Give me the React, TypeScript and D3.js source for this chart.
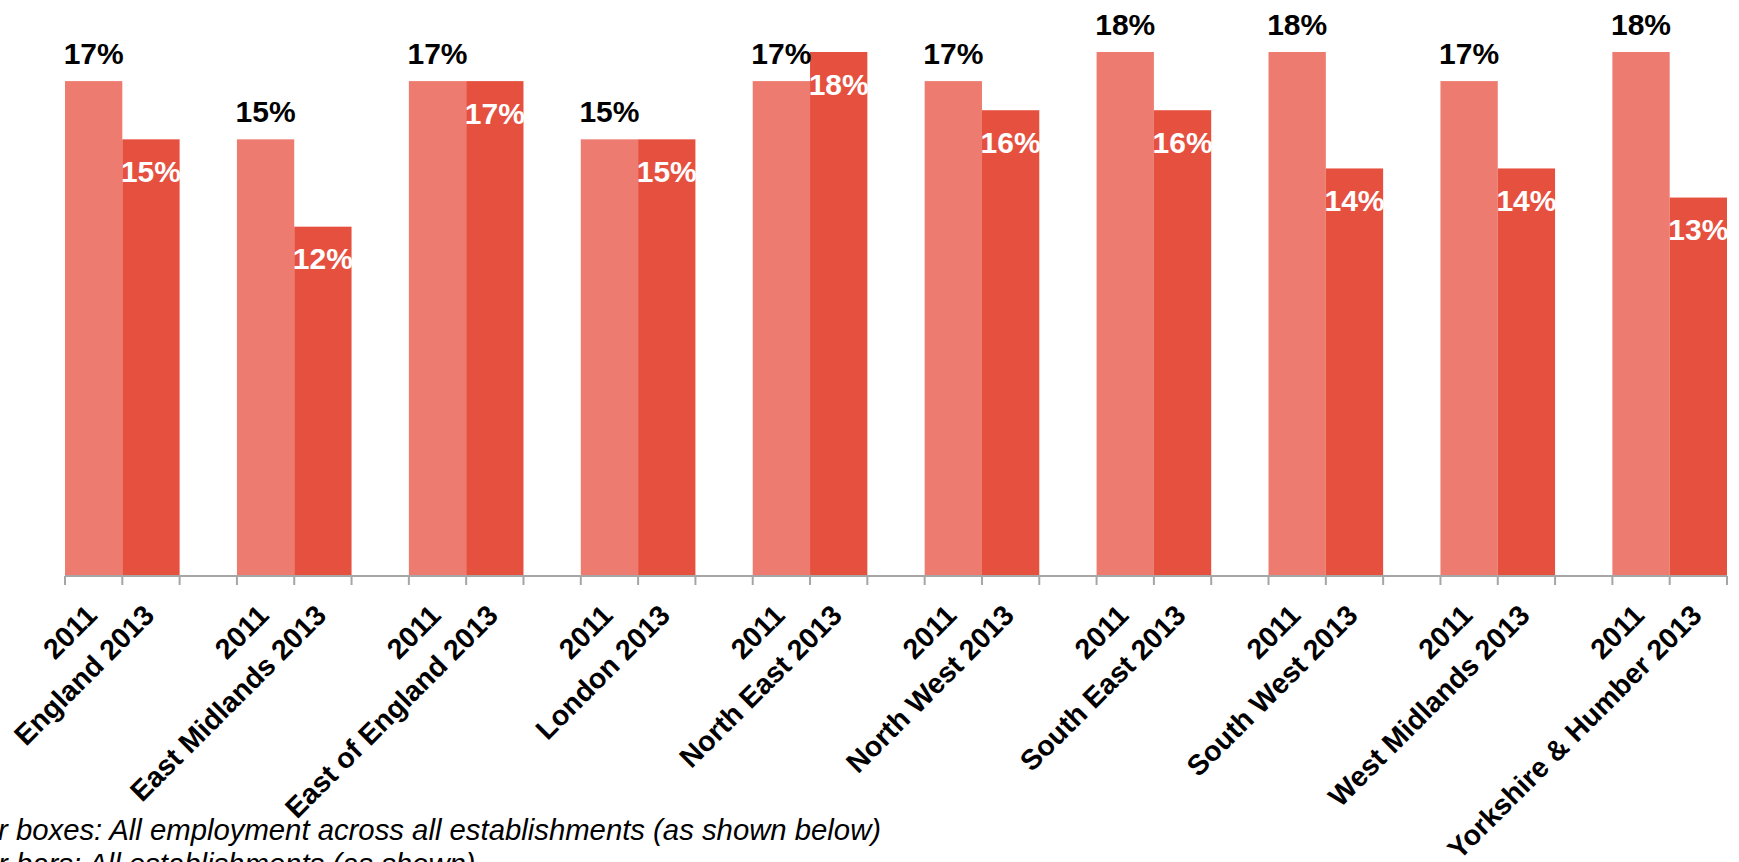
import React from "react";
import * as d3 from "d3";

const regions = [
  "England",
  "East Midlands",
  "East of England",
  "London",
  "North East",
  "North West",
  "South East",
  "South West",
  "West Midlands",
  "Yorkshire & Humber",
];
const values2011 = [17, 15, 17, 15, 17, 17, 18, 18, 17, 18];
const values2013 = [15, 12, 17, 15, 18, 16, 16, 14, 14, 13];
const years = ["2011", "2013"];
const footnotes = [
  "r boxes: All employment across all establishments (as shown below)",
  "r bars: All establishments (as shown)",
];

const W = 1739;
const H = 862;
const AXIS_Y = 576;
const FONT = "'Liberation Sans', Arial, Helvetica, sans-serif";
const COLORS: Record<string, string> = { "2011": "#EE7B6F", "2013": "#E6513F" };

export default function App() {
  const x0 = d3
    .scaleBand<string>()
    .domain(regions)
    .range([65, 1727])
    .paddingInner(1 / 3)
    .paddingOuter(0);
  const x1 = d3.scaleBand<string>().domain(years).range([0, x0.bandwidth()]);
  const y = d3.scaleLinear().domain([0, 18]).range([AXIS_Y, 52]);

  const bars = regions.flatMap((r, i) => [
    { region: r, year: "2011", value: values2011[i] },
    { region: r, year: "2013", value: values2013[i] },
  ]);

  const ticks = regions.flatMap((r) => [
    x0(r)!,
    x0(r)! + x1.bandwidth(),
    x0(r)! + x0.bandwidth(),
  ]);

  return (
    <svg
      width={W}
      height={H}
      style={{ position: "absolute", left: 0, top: 0, background: "#fff" }}
      fontFamily={FONT}
    >
      <rect x={0} y={0} width={W} height={H} fill="#fff" />
      {bars.map((b) => (
        <rect
          key={b.region + b.year}
          x={x0(b.region)! + x1(b.year)!}
          y={y(b.value)}
          width={x1.bandwidth()}
          height={AXIS_Y - y(b.value)}
          fill={COLORS[b.year]}
        />
      ))}
      {/* axis */}
      <line x1={x0.range()[0]} x2={x0.range()[1]} y1={AXIS_Y} y2={AXIS_Y} stroke="#A6A6A6" strokeWidth={2} />
      {ticks.map((t, i) => (
        <line key={i} x1={t} x2={t} y1={AXIS_Y} y2={AXIS_Y + 9} stroke="#A6A6A6" strokeWidth={2} />
      ))}
      {/* data labels */}
      {bars.map((b) => {
        const cx = x0(b.region)! + x1(b.year)! + x1.bandwidth() / 2;
        const is2011 = b.year === "2011";
        return (
          <text
            key={"l" + b.region + b.year}
            x={cx}
            y={is2011 ? y(b.value) - 17.5 : y(b.value) + 42.5}
            textAnchor="middle"
            fontSize={30}
            fontWeight="bold"
            fill={is2011 ? "#000" : "#fff"}
          >
            {`${b.value}%`}
          </text>
        );
      })}
      {/* category labels */}
      {bars.map((b) => {
        const cx = x0(b.region)! + x1(b.year)! + x1.bandwidth() / 2;
        const label = b.year === "2011" ? b.year : `${b.region} ${b.year}`;
        return (
          <text
            key={"c" + b.region + b.year}
            transform={`translate(${cx + 5},${AXIS_Y + 41}) rotate(-45)`}
            textAnchor="end"
            fontSize={28.5}
            fontWeight="bold"
            fill="#000"
          >
            {label}
          </text>
        );
      })}
      {/* footnotes */}
      {footnotes.map((f, i) => (
        <text key={"f" + i} x={-2} y={840 + i * 34} fontSize={29.3} fontStyle="italic" fill="#000">
          {f}
        </text>
      ))}
    </svg>
  );
}
